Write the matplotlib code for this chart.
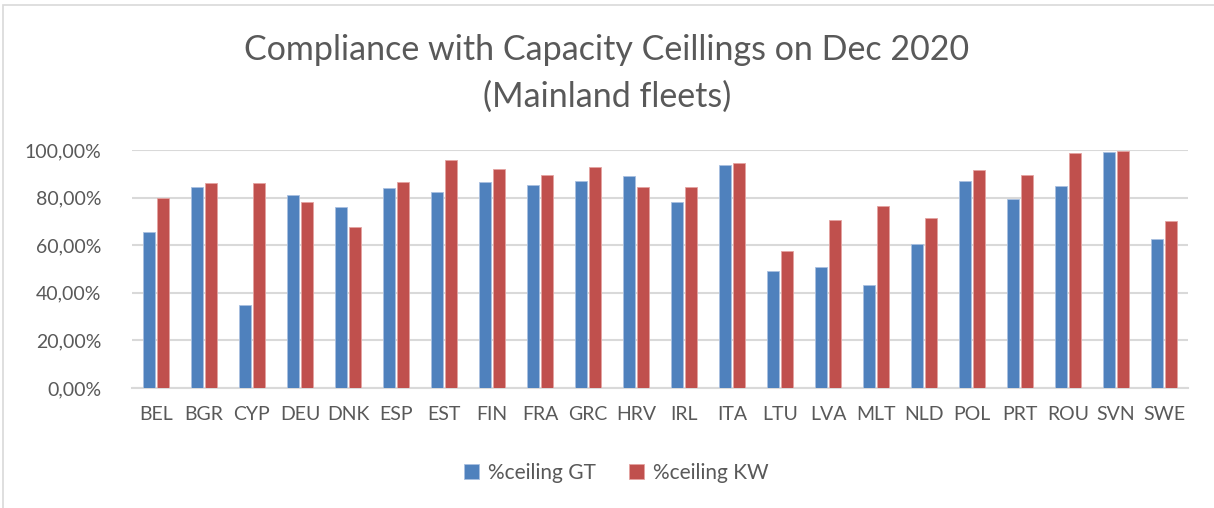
import matplotlib.pyplot as plt
import matplotlib.patches as mpatches
import numpy as np

plt.rcParams['font.family'] = ['Lato', 'DejaVu Sans']

countries = ["BEL", "BGR", "CYP", "DEU", "DNK", "ESP", "EST", "FIN", "FRA", "GRC", "HRV",
             "IRL", "ITA", "LTU", "LVA", "MLT", "NLD", "POL", "PRT", "ROU", "SVN", "SWE"]
ceiling_gt = [65.5, 84.6, 35.0, 81.3, 75.9, 84.2, 82.2, 86.4, 85.2, 87.1, 89.0,
              78.2, 93.7, 49.1, 51.0, 43.4, 60.6, 86.9, 79.4, 84.8, 99.3, 62.8]
ceiling_kw = [79.7, 86.2, 86.2, 78.2, 67.8, 86.4, 95.7, 91.9, 89.5, 92.7, 84.6,
              84.6, 94.5, 57.5, 70.5, 76.5, 71.5, 91.7, 89.5, 98.6, 99.7, 70.1]
yticks = [0, 20, 40, 60, 80, 100]
ytick_labels = ["0,00%", "20,00%", "40,00%", "60,00%", "80,00%", "100,00%"]

txt = "#595959"
blue = "#4F81BD"
red = "#C0504D"

fig = plt.figure(figsize=(12.14, 5.08), dpi=100)
W, H = 1214, 508
# plot area in pixels: x 132..1188, y 150..388
ax = fig.add_axes([132 / W, 1 - 388 / H, 1056 / W, 238 / H])

# chart border (clipped at right and bottom like the screenshot)
fig.patches.append(mpatches.Rectangle((3 / W, -0.05), 1.2, 1 - 5 / H + 0.05,
                                      transform=fig.transFigure, fill=False,
                                      edgecolor="#D9D9D9", linewidth=1.2))

x = np.arange(len(countries))
bw = 0.23
off = 0.146
ax.bar(x - off, ceiling_gt, bw, color=blue, edgecolor="#A9C0E0", linewidth=0.6,
       label="%ceiling GT", zorder=3)
ax.bar(x + off, ceiling_kw, bw, color=red, edgecolor="#E4A3A1", linewidth=0.6,
       label="%ceiling KW", zorder=3)

ax.set_xlim(-0.5, len(countries) - 0.5)
ax.set_ylim(0, 100)
ax.set_yticks(yticks)
ax.set_yticklabels(ytick_labels)
ax.set_xticks(x)
ax.set_xticklabels(countries)
ax.tick_params(axis="both", length=0, colors=txt, labelsize=14)
ax.tick_params(axis="y", pad=22)
ax.tick_params(axis="x", pad=13)
ax.yaxis.grid(True, color="#D9D9D9", linewidth=1.5, zorder=0)
ax.set_axisbelow(True)
for s in ["top", "right", "left"]:
    ax.spines[s].set_visible(False)
ax.spines["bottom"].set_color("#D9D9D9")
ax.spines["bottom"].set_linewidth(1.5)

fig.text(0.5, 1 - 50 / H, "Compliance with Capacity Ceillings on Dec 2020",
         ha="center", va="center", fontsize=24.5, color=txt)
fig.text(0.5, 1 - 97 / H, "(Mainland fleets)",
         ha="center", va="center", fontsize=24.5, color=txt)

fig.legend(loc="center", bbox_to_anchor=(616 / W, 1 - 473 / H), ncol=2, frameon=False,
           fontsize=15, labelcolor=txt, handlelength=0.75, handleheight=0.75,
           handletextpad=0.4, columnspacing=1.6)

fig.savefig("out.png", dpi=100)
